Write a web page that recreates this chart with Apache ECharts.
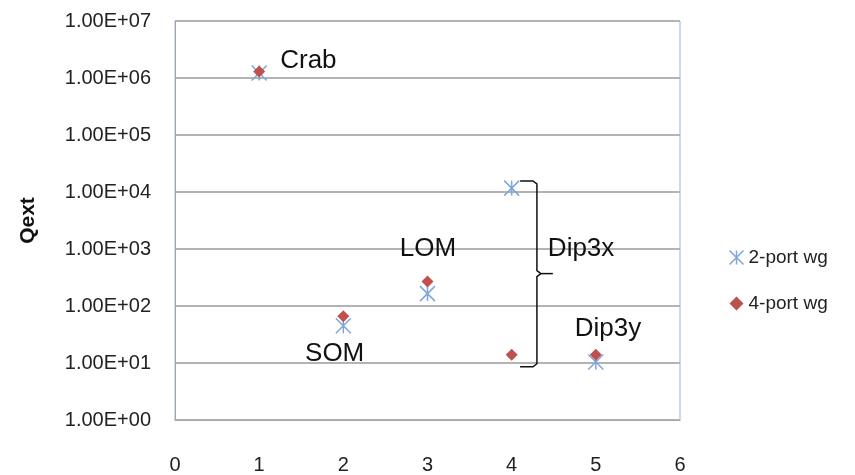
<!DOCTYPE html>
<html>
<head>
<meta charset="utf-8">
<script src="https://cdn.jsdelivr.net/npm/echarts@6/dist/echarts.min.js"></script>
<style>
  html, body { margin: 0; padding: 0; background: #fff; }
  #chart { width: 855px; height: 475px; }
</style>
</head>
<body>
<div id="chart"></div>
<script>
// Structure index (x) and external Q values for each waveguide configuration
const structures = [1, 2, 3, 4, 5];
const qext2port = [1.22e6, 45, 165, 1.17e4, 10.4];
const qext4port = [1.3e6, 66, 268, 14, 14];
const seriesNames = ['2-port wg', '4-port wg'];
const xTicks = [0, 1, 2, 3, 4, 5, 6];
const yTickExponents = [0, 1, 2, 3, 4, 5, 6, 7];

// Text annotations: [label, x, y] in data units (left edge, vertical centre)
const annotations = [
  ['Crab', 1.25, Math.pow(10, 6.3)],
  ['SOM', 1.545, Math.pow(10, 1.16)],
  ['LOM', 2.67, 1e3],
  ['Dip3x', 4.43, 1e3],
  ['Dip3y', 4.75, Math.pow(10, 1.6)]
];
// Brace grouping the structure-4 points: top, bottom, middle (data units)
const brace = { xStart: 4.10, xLine: 4.30, xTip: 4.49, yTop: 1.56e4, yBottom: 8.6, yMid: 370 };

function sci(v) {
  const e = Math.round(Math.log10(v));
  const m = v / Math.pow(10, e);
  return m.toFixed(2) + 'E' + (e >= 0 ? '+' : '-') + String(Math.abs(e)).padStart(2, '0');
}

const starPath = 'path://M0,0L10,10M10,0L0,10M5,0L5,10';
const tickFont = '"Liberation Sans", Arial, sans-serif';

const chart = echarts.init(document.getElementById('chart'));
chart.setOption({
  animation: false,
  grid: { left: 175, right: 175, top: 21, bottom: 54, show: true, borderColor: '#8eb4e3', borderWidth: 1 },
  xAxis: {
    type: 'value', min: xTicks[0], max: xTicks[xTicks.length - 1], interval: 1,
    axisLine: { lineStyle: { color: '#a6a6a6' } },
    axisTick: { show: false },
    splitLine: { show: false },
    axisLabel: { color: '#222', fontSize: 20, margin: 35, fontFamily: tickFont }
  },
  yAxis: {
    type: 'log', logBase: 10, min: Math.pow(10, yTickExponents[0]), max: Math.pow(10, yTickExponents[yTickExponents.length - 1]),
    name: 'Qext', nameLocation: 'middle', nameGap: 136, nameRotate: 90,
    nameTextStyle: { fontSize: 21, fontWeight: 'bold', color: '#111', fontFamily: tickFont },
    axisLine: { show: true, lineStyle: { color: '#a6a6a6' } },
    axisTick: { show: false },
    splitLine: { lineStyle: { color: '#b3b3b3', width: 2 } },
    axisLabel: { color: '#222', fontSize: 20, margin: 24, fontFamily: tickFont, formatter: v => sci(v) }
  },
  legend: {
    orient: 'vertical', left: 722, top: 243, itemGap: 27, itemWidth: 14, itemHeight: 14,
    textStyle: { fontSize: 19, color: '#222', fontFamily: tickFont },
    data: [
      { name: seriesNames[0], icon: starPath, itemStyle: { color: 'none', borderColor: '#7ea6dc', borderWidth: 1.5 } },
      { name: seriesNames[1], icon: 'diamond', itemStyle: { color: '#c0504d' } }
    ]
  },
  series: [
    {
      name: seriesNames[0], type: 'scatter', symbol: starPath, symbolSize: 15,
      itemStyle: { color: 'none', borderColor: '#7ea6dc', borderWidth: 1.5, opacity: 1 },
      data: structures.map((x, i) => [x, qext2port[i]]), z: 2
    },
    {
      name: seriesNames[1], type: 'scatter', symbol: 'diamond', symbolSize: 12,
      itemStyle: { color: '#c0504d', opacity: 1 },
      data: structures.map((x, i) => [x, qext4port[i]]), z: 3
    }
  ]
});

// Annotation text and brace, placed through the axes' own scales
function px(x, y) { return chart.convertToPixel({ gridIndex: 0 }, [x, y]); }
const graphics = annotations.map(([t, x, y]) => {
  const p = px(x, y);
  return { type: 'text', x: p[0], y: p[1], z: 10,
    style: { text: t, font: '26px "Liberation Sans", Arial, sans-serif', fill: '#111', textVerticalAlign: 'middle', textAlign: 'left' } };
});
const pTop = px(brace.xLine, brace.yTop), pBot = px(brace.xLine, brace.yBottom), pMid = px(brace.xLine, brace.yMid);
const xs = px(brace.xStart, 1)[0], xt = px(brace.xTip, 1)[0];
const xl = pTop[0];
const braceStyle = { fill: 'none', stroke: '#111', lineWidth: 1.5 };
// upper arm, lower arm, and the middle tip of the brace
graphics.push({ type: 'polyline', z: 10, style: braceStyle,
  shape: { points: [[xs, pTop[1]], [xl - 4, pTop[1]], [xl, pTop[1] + 3], [xl, pMid[1] - 3], [xl + 4, pMid[1]]] } });
graphics.push({ type: 'polyline', z: 10, style: braceStyle,
  shape: { points: [[xl + 4, pMid[1]], [xl, pMid[1] + 3], [xl, pBot[1] - 3], [xl - 4, pBot[1]], [xs, pBot[1]]] } });
graphics.push({ type: 'line', z: 10, style: braceStyle,
  shape: { x1: xl + 4, y1: pMid[1], x2: xt, y2: pMid[1] } });
chart.setOption({ graphic: graphics });
</script>
</body>
</html>
